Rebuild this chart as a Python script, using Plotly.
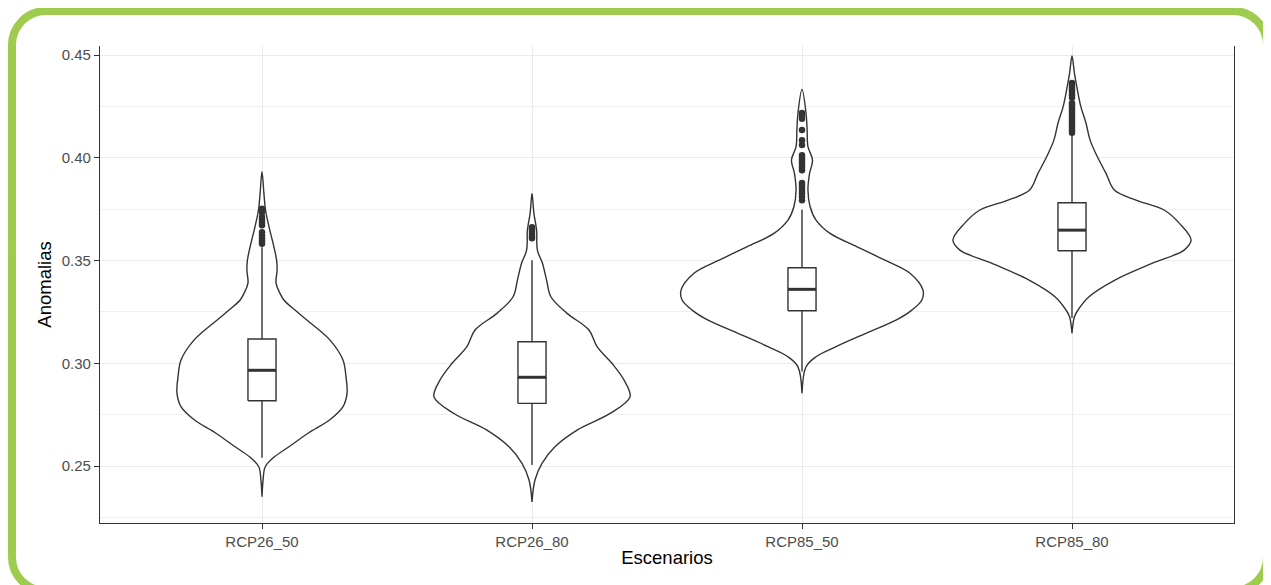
import plotly.graph_objects as go

# ---------------- data ----------------
categories = ["RCP26_50", "RCP26_80", "RCP85_50", "RCP85_80"]

# violin outlines: value levels and half-widths (in category units)
v1_y = [0.3932, 0.3828, 0.3746, 0.3664, 0.3567, 0.3502, 0.3454, 0.3390, 0.3342, 0.3308,
        0.3259, 0.3210, 0.3113, 0.3016, 0.2935, 0.2855, 0.2789, 0.2724, 0.2661, 0.2594,
        0.2545, 0.2497, 0.2432, 0.2351]
v1_w = [0.000, 0.007, 0.013, 0.026, 0.044, 0.054, 0.056, 0.052, 0.066, 0.081,
        0.122, 0.167, 0.252, 0.300, 0.311, 0.315, 0.300, 0.250, 0.172, 0.100,
        0.046, 0.012, 0.004, 0.000]

v2_y = [0.3827, 0.3730, 0.3648, 0.3551, 0.3486, 0.3405, 0.3324, 0.3243, 0.3162, 0.3081,
        0.3000, 0.2918, 0.2837, 0.2756, 0.2675, 0.2594, 0.2513, 0.2432, 0.2326]
v2_w = [0.000, 0.007, 0.017, 0.020, 0.039, 0.054, 0.070, 0.130, 0.211, 0.241,
        0.296, 0.341, 0.363, 0.289, 0.167, 0.085, 0.037, 0.011, 0.000]

v3_y = [0.4333, 0.4216, 0.4135, 0.4054, 0.3989, 0.3924, 0.3843, 0.3762, 0.3697, 0.3632,
        0.3567, 0.3502, 0.3438, 0.3356, 0.3308, 0.3259, 0.3210, 0.3146, 0.3081, 0.3032,
        0.2983, 0.2854]
v3_w = [0.000, 0.015, 0.019, 0.022, 0.039, 0.028, 0.022, 0.030, 0.052, 0.104,
        0.204, 0.307, 0.400, 0.448, 0.444, 0.407, 0.348, 0.237, 0.126, 0.052,
        0.015, 0.000]

v4_y = [0.4495, 0.4411, 0.4330, 0.4248, 0.4168, 0.4086, 0.4005, 0.3924, 0.3843, 0.3794,
        0.3746, 0.3681, 0.3600, 0.3551, 0.3486, 0.3405, 0.3324, 0.3259, 0.3227, 0.3146]
v4_w = [0.000, 0.009, 0.020, 0.033, 0.052, 0.067, 0.094, 0.126, 0.157, 0.237,
        0.341, 0.398, 0.441, 0.415, 0.296, 0.159, 0.063, 0.022, 0.009, 0.000]

# box statistics
lower_fence = [0.2540, 0.2505, 0.2960, 0.3220]
q1 = [0.2818, 0.2805, 0.3256, 0.3548]
median = [0.2966, 0.2932, 0.3360, 0.3648]
q3 = [0.3118, 0.3105, 0.3465, 0.3781]
upper_fence = [0.3565, 0.3502, 0.3749, 0.4110]

# outliers
o1 = [0.3752, 0.3735, 0.3712, 0.3698, 0.3685, 0.3672, 0.3638, 0.3622, 0.3608, 0.3595, 0.3582]
o2 = [0.3662, 0.3652, 0.3640, 0.3630, 0.3618, 0.3608]
o3 = [0.4218, 0.4205, 0.4190, 0.4135, 0.4086, 0.4062, 0.4013, 0.4000, 0.3989, 0.3977,
      0.3965, 0.3952, 0.3940, 0.3877, 0.3865, 0.3853, 0.3840, 0.3828, 0.3812, 0.3794]
o4 = [0.4364, 0.4352, 0.4340, 0.4328, 0.4316, 0.4304, 0.4292, 0.4266, 0.4254, 0.4242,
      0.4230, 0.4218, 0.4206, 0.4194, 0.4182, 0.4170, 0.4158, 0.4146, 0.4134, 0.4122]

y_ticks = [0.25, 0.30, 0.35, 0.40, 0.45]
y_tick_labels = ["0.25", "0.30", "0.35", "0.40", "0.45"]

# ---------------- figure ----------------
DARK = "#333333"
GRID = "#EBEBEB"
violins = [(v1_y, v1_w), (v2_y, v2_w), (v3_y, v3_w), (v4_y, v4_w)]
outliers = [o1, o2, o3, o4]
positions = [1, 2, 3, 4]
box_half = 0.052

fig = go.Figure()

for pos, (vy, vw) in zip(positions, violins):
    xs = [pos + w for w in vw] + [pos - w for w in reversed(vw)]
    ys = list(vy) + list(reversed(vy))
    fig.add_trace(go.Scatter(
        x=xs, y=ys, mode="lines", fill="toself", fillcolor="white",
        line=dict(color=DARK, width=1.4, shape="spline", smoothing=1.0),
        hoverinfo="skip", showlegend=False))

for i, pos in enumerate(positions):
    # whiskers
    fig.add_trace(go.Scatter(
        x=[pos, pos, None, pos, pos],
        y=[q3[i], upper_fence[i], None, q1[i], lower_fence[i]],
        mode="lines", line=dict(color=DARK, width=1.4),
        hoverinfo="skip", showlegend=False))
    # box
    fig.add_trace(go.Scatter(
        x=[pos - box_half, pos + box_half, pos + box_half, pos - box_half, pos - box_half],
        y=[q1[i], q1[i], q3[i], q3[i], q1[i]],
        mode="lines", fill="toself", fillcolor="white",
        line=dict(color=DARK, width=1.4), hoverinfo="skip", showlegend=False))
    # median
    fig.add_trace(go.Scatter(
        x=[pos - box_half, pos + box_half], y=[median[i], median[i]],
        mode="lines", line=dict(color=DARK, width=3),
        hoverinfo="skip", showlegend=False))
    # outliers
    fig.add_trace(go.Scatter(
        x=[pos] * len(outliers[i]), y=outliers[i], mode="markers",
        marker=dict(color=DARK, size=6.5), showlegend=False))

# page body has an 8px margin: figure is sized/offset to compensate
OFF = 8
W, H = 1271 - OFF, 585 - OFF
L, R, T, B = 100 - OFF, 1234 - OFF, 46 - OFF, 523 - OFF

# green rounded frame around the whole picture (pixel -> paper helper)
def px(xp):
    return (xp - OFF - L) / (R - L)
def py(yp):
    return (B - (yp - OFF)) / (B - T)

fx0, fy0, fx1, fy1, rad = 12, 11, 1267, 591, 34
k = 0.5523 * rad
path = (
    f"M {px(fx0 + rad)},{py(fy0)} L {px(fx1 - rad)},{py(fy0)} "
    f"C {px(fx1 - rad + k)},{py(fy0)} {px(fx1)},{py(fy0 + rad - k)} {px(fx1)},{py(fy0 + rad)} "
    f"L {px(fx1)},{py(fy1 - rad)} "
    f"C {px(fx1)},{py(fy1 - rad + k)} {px(fx1 - rad + k)},{py(fy1)} {px(fx1 - rad)},{py(fy1)} "
    f"L {px(fx0 + rad)},{py(fy1)} "
    f"C {px(fx0 + rad - k)},{py(fy1)} {px(fx0)},{py(fy1 - rad + k)} {px(fx0)},{py(fy1 - rad)} "
    f"L {px(fx0)},{py(fy0 + rad)} "
    f"C {px(fx0)},{py(fy0 + rad - k)} {px(fx0 + rad - k)},{py(fy0)} {px(fx0 + rad)},{py(fy0)} Z"
)
fig.add_shape(type="path", xref="paper", yref="paper", path=path,
              line=dict(color="#9FCC4E", width=8), fillcolor="rgba(0,0,0,0)",
              layer="above")

FONT = "Liberation Sans, Arial, sans-serif"
fig.update_layout(
    width=W, height=H,
    margin=dict(l=L, r=W - R, t=T, b=H - B, pad=0),
    paper_bgcolor="white", plot_bgcolor="white",
    font=dict(family=FONT, color="#4D4D4D", size=15),
    showlegend=False,
    xaxis=dict(
        range=[0.4, 4.6], tickmode="array", tickvals=positions, ticktext=categories,
        showgrid=True, gridcolor=GRID, gridwidth=1, zeroline=False,
        showline=True, linecolor=DARK, linewidth=1.3, mirror=False,
        ticks="outside", ticklen=5, tickcolor=DARK, tickwidth=1.2,
        tickfont=dict(size=15, color="#4D4D4D", family=FONT),
        title=dict(text="Escenarios", standoff=1,
                   font=dict(size=18.5, color="black", family=FONT)),
    ),
    yaxis=dict(
        range=[0.2223, 0.4544], tickmode="array", tickvals=y_ticks, ticktext=y_tick_labels,
        showgrid=True, gridcolor=GRID, gridwidth=1, zeroline=False,
        showline=True, linecolor=DARK, linewidth=1.3, mirror=True,
        ticks="outside", ticklen=5, tickcolor=DARK, tickwidth=1.2,
        tickfont=dict(size=15, color="#4D4D4D", family=FONT),
        minor=dict(tickmode="array", tickvals=[0.225, 0.275, 0.325, 0.375, 0.425],
                   showgrid=True, gridcolor="#F0F0F0", gridwidth=1, ticks=""),
        title=dict(text="Anomalias", standoff=5,
                   font=dict(size=18.5, color="black", family=FONT)),
    ),
)

fig.write_html("out.html")
